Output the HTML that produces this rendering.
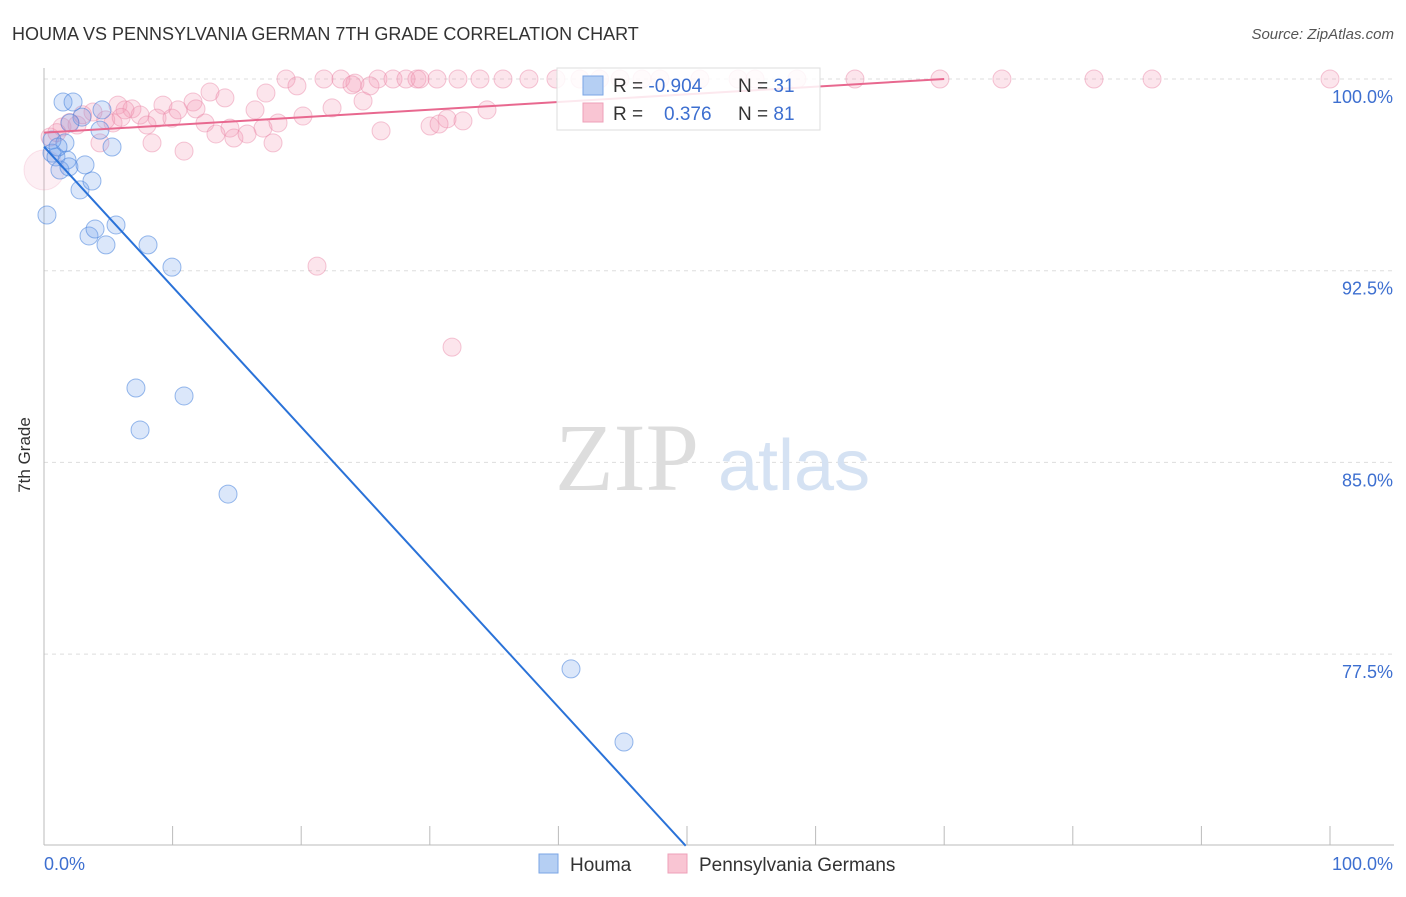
<!DOCTYPE html>
<html><head><meta charset="utf-8"><style>
body{margin:0;background:#fff;font-family:"Liberation Sans",sans-serif}
</style></head><body>
<svg id="chart" width="1406" height="892" xmlns="http://www.w3.org/2000/svg" style="font-family:'Liberation Sans',sans-serif">
<text x="12" y="40" font-size="18" fill="#333">HOUMA VS PENNSYLVANIA GERMAN 7TH GRADE CORRELATION CHART</text>
<text x="1394" y="39" font-size="15" fill="#555" text-anchor="end" font-style="italic">Source: ZipAtlas.com</text>
<text x="30" y="455" font-size="17" fill="#333" transform="rotate(-90 30 455)" text-anchor="middle">7th Grade</text>
<g id="grid"></g>
<g id="ticks"></g>
<text x="555" y="490" font-size="96" fill="#ddd" font-family="Liberation Serif">ZIP</text>
<text x="718" y="490" font-size="72" fill="#d5e2f3">atlas</text>
<g id="pts"></g>
<g id="lines"></g>
<g>
<rect x="557" y="68" width="263" height="62" fill="#fff" fill-opacity="0.85" stroke="#ddd"/>
<rect x="583" y="76" width="20" height="19" fill="#b5cff3" stroke="#7aa6e6"/>
<text x="613" y="92" font-size="19" fill="#333">R = <tspan fill="#3d6fd0">-0.904</tspan><tspan x="738">N = </tspan><tspan fill="#3d6fd0">31</tspan></text>
<rect x="583" y="103" width="20" height="19" fill="#f9c5d3" stroke="#eea0b8"/>
<text x="613" y="120" font-size="19" fill="#333">R = <tspan x="664" fill="#3d6fd0">0.376</tspan><tspan x="738">N = </tspan><tspan fill="#3d6fd0">81</tspan></text>
</g>
<g>
<rect x="539" y="854" width="19" height="19" fill="#b5cff3" stroke="#7aa6e6"/>
<text x="570" y="871" font-size="19" fill="#333">Houma</text>
<rect x="668" y="854" width="19" height="19" fill="#f9c5d3" stroke="#eea0b8"/>
<text x="699" y="871" font-size="19" fill="#333">Pennsylvania Germans</text>
</g>
</svg>
<script>
const yTicks=[100,92.5,85,77.5];
const yTickLabels=["100.0%","92.5%","85.0%","77.5%"];
const houmaX=[0.23,1.48,2.26,0.62,0.93,1.24,1.79,1.94,1.63,2.80,3.73,3.19,2.95,4.35,4.51,5.29,3.50,3.97,4.82,5.60,8.09,9.95,7.15,10.89,7.47,14.31,40.98,45.10,0.62,1.09,2.02];
const houmaY=[94.68,99.10,99.10,97.10,96.95,96.44,96.83,96.56,97.50,95.66,96.01,96.64,98.51,98.00,98.79,97.34,93.86,94.13,93.51,94.29,93.51,92.64,87.91,87.60,86.27,83.76,76.92,74.06,97.61,97.34,98.28];
const pennX=[18.82,21.77,23.09,25.97,27.14,28.15,29.00,29.24,30.56,32.19,33.90,35.69,37.71,39.81,41.68,43.2,44.79,46.50,47.9,51.0,53.97,55.29,58.55,63.06,69.67,74.49,81.65,86.16,100,
19.67,24.18,23.95,25.35,12.91,14.07,17.26,11.59,9.25,5.75,6.84,6.30,3.81,7.47,8.79,9.95,10.42,11.82,16.41,22.40,24.81,20.14,1.40,2.57,5.37,8.01,12.52,14.46,17.03,18.20,34.45,31.34,32.58,30.02,30.72,13.37,14.77,15.79,26.21,8.40,4.35,17.81,10.89,21.23,31.73,0.47,3.0,4.8,2.0,6.0,1.0,0];
const pennY=[100,100,100,100,100,100,100,100,100,100,100,100,100,100,100,100,100,100,100,100,100,100,100,100,100,100,100,100,100,
99.73,99.84,99.77,99.73,99.49,99.26,99.45,99.10,98.98,98.98,98.83,98.79,98.71,98.59,98.47,98.47,98.79,98.83,98.79,98.87,99.14,98.55,98.12,98.20,98.28,98.20,98.28,98.08,98.08,98.28,98.79,98.44,98.36,98.16,98.24,97.85,97.69,97.85,97.97,97.50,97.50,97.50,97.18,92.68,89.51,97.73,98.6,98.4,98.3,98.5,97.9,96.44];
const houmaTrend=[[0,97.35],[49.9,70]];
const pennTrend=[[0,97.9],[70,100]];
const NS="http://www.w3.org/2000/svg";
const X=v=>44+v*12.86, Y=v=>79+(100-v)*25.56;
const grid=document.getElementById('grid'),ticks=document.getElementById('ticks'),pts=document.getElementById('pts'),lines=document.getElementById('lines');
function mk(tag,attrs,parent){const e=document.createElementNS(NS,tag);for(const k in attrs)e.setAttribute(k,attrs[k]);parent.appendChild(e);return e;}
yTicks.forEach((t,i)=>{
 const l=mk('line',{x1:44,x2:1394,y1:Y(t),y2:Y(t),stroke:'#ddd','stroke-dasharray':'4,4'},grid);
 
 
 const tx=mk('text',{x:1393,y:Y(t)+24,'font-size':18,fill:'#3d6fd0','text-anchor':'end'},ticks);
 tx.textContent=yTickLabels[i];
 
 
});
mk('line',{x1:44,x2:44,y1:68,y2:845,stroke:'#bbb'},grid);
mk('line',{x1:44,x2:1394,y1:845,y2:845,stroke:'#bbb'},grid);
for(let i=0;i<=10;i++){const x=X(i*10);mk('line',{x1:x,x2:x,y1:826,y2:845,stroke:'#bbb'},grid);}
const xl0=mk('text',{x:44,y:870,'font-size':18,fill:'#3d6fd0'},ticks);xl0.textContent='0.0%';


const xl1=mk('text',{x:1393,y:870,'font-size':18,fill:'#3d6fd0','text-anchor':'end'},ticks);xl1.textContent='100.0%';


pennX.forEach((x,i)=>{
 const big=(i==pennX.length-1);
 const c=mk('circle',{cx:X(x),cy:Y(pennY[i]),r:big?20:9,fill:big?'rgba(242,150,178,0.15)':'rgba(242,150,178,0.25)',stroke:big?'rgba(232,130,165,0.2)':'rgba(232,130,165,0.45)'},pts);
 
 
});
houmaX.forEach((x,i)=>{
 const c=mk('circle',{cx:X(x),cy:Y(houmaY[i]),r:9,fill:'rgba(110,160,235,0.25)',stroke:'rgba(70,130,220,0.55)'},pts);
 
 
});
const bl=mk('line',{x1:X(houmaTrend[0][0]),y1:Y(houmaTrend[0][1]),x2:X(houmaTrend[1][0]),y2:Y(houmaTrend[1][1]),stroke:'#2a72d8','stroke-width':2},lines);


const pl=mk('line',{x1:X(pennTrend[0][0]),y1:Y(pennTrend[0][1]),x2:X(pennTrend[1][0]),y2:Y(pennTrend[1][1]),stroke:'#e8688f','stroke-width':2},lines);


</script>
</body></html>
